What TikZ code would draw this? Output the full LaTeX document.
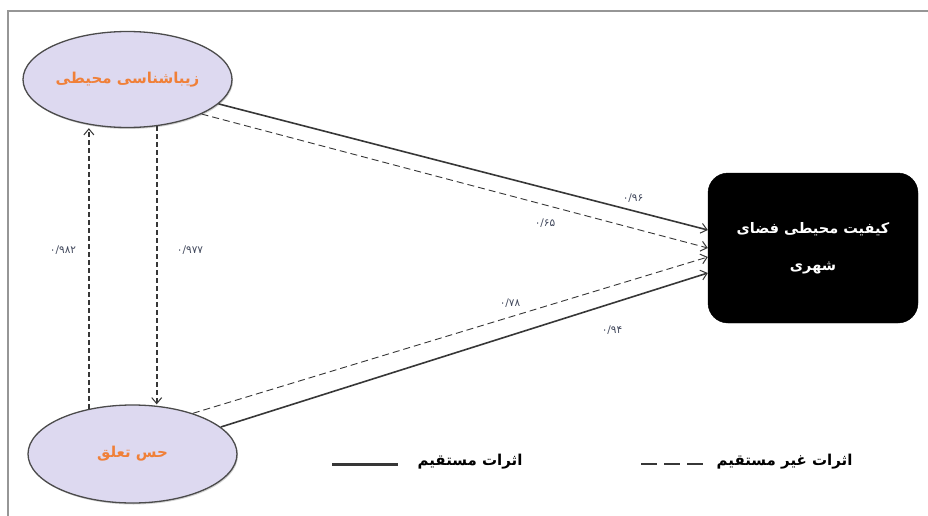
\documentclass[tikz,border=0pt]{standalone}
\usepackage{fontspec}
\TeXXeTstate=1
\newfontfamily\arabicfont[Script=Arabic]{DejaVu Sans}
\usetikzlibrary{arrows.meta,shapes.geometric,shadows}
\definecolor{lav}{RGB}{221,217,240}
\definecolor{ochre}{RGB}{240,128,56}
\definecolor{ink}{RGB}{55,55,55}
\definecolor{numc}{RGB}{65,72,92}
\definecolor{framec}{RGB}{150,150,150}
\tikzset{
  construct/.style={ellipse, draw=ink!90, line width=1.3pt, fill=lav,
    minimum width=209pt, minimum height=96pt, inner sep=0pt,
    font=\arabicfont\bfseries\fontsize{15}{17}\selectfont, text=ochre,
    drop shadow={shadow xshift=1pt, shadow yshift=-1.5pt, opacity=0.35}},
  outcome/.style={rectangle, rounded corners=20pt, fill=black, draw=black,
    minimum width=210pt, minimum height=150pt, text=white, align=center,
    font=\arabicfont\bfseries\fontsize{14.5}{37}\selectfont},
  tipv/.style={-{Straight Barb[length=6pt,width=10pt,line width=1pt]}},
  direct/.style={draw=ink, line width=1.6pt, tipv},
  indirect/.style={draw=ink, line width=0.9pt, dash pattern=on 7pt off 4pt, tipv},
  vert/.style={draw=ink, line width=2pt, dash pattern=on 5pt off 3pt, tipv},
  coef/.style={font=\arabicfont\fontsize{10.5}{12}\selectfont, text=numc, inner sep=1pt},
  legtext/.style={font=\arabicfont\bfseries\fontsize{15}{17}\selectfont, text=black}
}
\begin{document}
\begin{tikzpicture}[x=1pt,y=-1pt]
  % canvas and frame
  \fill[white] (0,0) rectangle (928,516);
  \useasboundingbox (0,0) rectangle (928,516);
  \draw[framec, line width=1.6pt] (8,516) -- (8,11) -- (928,11);

  % constructs
  \node[construct] (ez) at (127.5,79.5) {\beginR زیباشناسی محیطی\endR};
  \node[construct, minimum height=98pt] (hs) at (132.5,454) {\beginR حس تعلق\endR};
  \node[outcome] (q) at (813,248) {\beginR کیفیت محیطی فضای\endR\\\beginR شهری\endR};

  % end points on the outcome box
  \coordinate (q1) at ([yshift=18pt]q.west);
  \coordinate (q2) at ([yshift=0pt]q.west);
  \coordinate (q3) at ([yshift=-9pt]q.west);
  \coordinate (q4) at ([yshift=-25pt]q.west);

  % paths to the outcome
  \draw[direct]   (ez.-15) -- (q1);
  \draw[indirect] (ez.-25) -- (q2);
  \draw[indirect] (hs.34)  -- (q3);
  \draw[direct]   (hs.17)  -- (q4);

  % reciprocal paths between the two constructs
  \draw[vert] (hs.134.7) -- (hs.134.7 |- ez.south);
  \draw[vert] (ez.-58) -- (ez.-58 |- hs.north);

  % coefficients
  \node[coef] (c1) at (633,198) {۰/۹۶};
  \node[coef] (c2) at (545,223) {۰/۶۵};
  \node[coef] (c3) at (510,303) {۰/۷۸};
  \node[coef] (c4) at (612,330) {۰/۹۴};
  \node[coef] (c5) at (63,250) {۰/۹۸۲};
  \node[coef] (c6) at (190,250) {۰/۹۷۷};

  % legend
  \node[legtext, anchor=east] (l1) at (526,462) {\beginR اثرات مستقیم\endR};
  \coordinate (l1a) at (332,464);
  \coordinate (l1b) at (398,464);
  \draw[ink, line width=3pt] (l1a) -- (l1b);
  \node[legtext, anchor=east] (l2) at (856,462) {\beginR اثرات غیر مستقیم\endR};
  \coordinate (l2a) at (641,464);
  \coordinate (l2b) at (704,464);
  \draw[ink, line width=2.6pt, dash pattern=on 16pt off 7pt] (l2a) -- (l2b);
\end{tikzpicture}
\end{document}
